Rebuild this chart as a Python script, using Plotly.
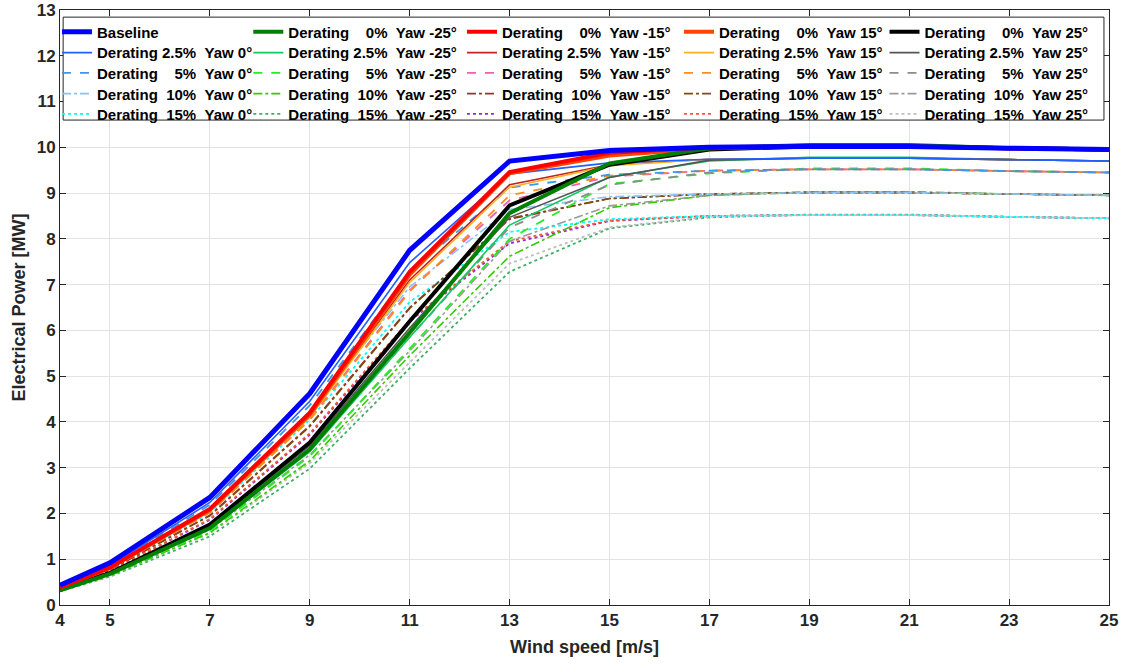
import plotly.graph_objects as go

# Wind speeds at which the power was evaluated [m/s]
wind_speed = [4, 5, 7, 9, 11, 13, 15, 17, 19, 21, 23, 25]

x_ticks = [4, 5, 7, 9, 11, 13, 15, 17, 19, 21, 23, 25]
y_ticks = list(range(0, 14))

derating_levels = ["0%", "2.5%", "5%", "10%", "15%"]
yaw_angles = ["0°", "-25°", "-15°", "15°", "25°"]

# Electrical power [MW] for each yaw angle, one list per derating level
p_baseline = [0.43, 0.92, 2.35, 4.62, 7.75, 9.70, 9.93, 10.00, 10.02, 10.02, 9.98, 9.95]

p_yaw0_d2_5 = [0.40, 0.86, 2.24, 4.45, 7.48, 9.42, 9.66, 9.74, 9.76, 9.76, 9.73, 9.70]
p_yaw0_d5 = [0.39, 0.84, 2.19, 4.36, 7.28, 9.12, 9.40, 9.49, 9.52, 9.52, 9.48, 9.45]
p_yaw0_d10 = [0.38, 0.81, 2.10, 4.20, 6.95, 8.64, 8.92, 8.98, 9.01, 9.01, 8.98, 8.95]
p_yaw0_d15 = [0.37, 0.78, 2.02, 4.05, 6.62, 8.15, 8.43, 8.50, 8.52, 8.52, 8.48, 8.45]

p_yawm25_d0 = [0.32, 0.68, 1.68, 3.40, 5.95, 8.56, 9.65, 9.98, 10.05, 10.05, 9.98, 9.95]
p_yawm25_d2_5 = [0.32, 0.67, 1.66, 3.35, 5.85, 8.30, 9.35, 9.70, 9.78, 9.78, 9.73, 9.70]
p_yawm25_d5 = [0.31, 0.66, 1.62, 3.25, 5.60, 8.00, 9.20, 9.43, 9.54, 9.54, 9.48, 9.45]
p_yawm25_d10 = [0.31, 0.64, 1.58, 3.15, 5.45, 7.62, 8.68, 8.95, 9.03, 9.03, 8.98, 8.95]
p_yawm25_d15 = [0.30, 0.62, 1.50, 2.98, 5.17, 7.28, 8.23, 8.47, 8.53, 8.53, 8.48, 8.45]

p_yawm15_d0 = [0.38, 0.82, 2.10, 4.20, 7.28, 9.46, 9.88, 10.00, 10.02, 10.02, 9.98, 9.95]
p_yawm15_d2_5 = [0.37, 0.80, 2.06, 4.12, 7.10, 9.18, 9.62, 9.74, 9.76, 9.76, 9.73, 9.70]
p_yawm15_d5 = [0.37, 0.79, 2.03, 4.06, 6.88, 8.84, 9.36, 9.49, 9.52, 9.52, 9.48, 9.45]
p_yawm15_d10 = [0.36, 0.77, 1.96, 3.92, 6.50, 8.43, 8.88, 8.98, 9.01, 9.01, 8.98, 8.95]
p_yawm15_d15 = [0.35, 0.74, 1.86, 3.72, 6.20, 7.90, 8.39, 8.50, 8.52, 8.52, 8.48, 8.45]

p_yaw15_d0 = [0.38, 0.81, 2.08, 4.16, 7.22, 9.43, 9.82, 9.98, 10.02, 10.02, 9.98, 9.95]
p_yaw15_d2_5 = [0.37, 0.80, 2.05, 4.10, 7.05, 9.13, 9.60, 9.74, 9.76, 9.76, 9.73, 9.70]
p_yaw15_d5 = [0.37, 0.79, 2.02, 4.04, 6.85, 8.95, 9.38, 9.49, 9.52, 9.52, 9.48, 9.45]
p_yaw15_d10 = [0.36, 0.77, 1.95, 3.90, 6.48, 8.45, 8.88, 8.98, 9.01, 9.01, 8.98, 8.95]
p_yaw15_d15 = [0.35, 0.74, 1.88, 3.75, 6.22, 7.95, 8.40, 8.50, 8.52, 8.52, 8.48, 8.45]

p_yaw25_d0 = [0.33, 0.70, 1.76, 3.55, 6.20, 8.73, 9.62, 9.95, 10.02, 10.02, 9.98, 9.95]
p_yaw25_d2_5 = [0.33, 0.69, 1.73, 3.48, 6.05, 8.47, 9.34, 9.72, 9.76, 9.76, 9.73, 9.70]
p_yaw25_d5 = [0.32, 0.68, 1.70, 3.40, 5.85, 8.25, 9.18, 9.45, 9.52, 9.52, 9.48, 9.45]
p_yaw25_d10 = [0.32, 0.66, 1.64, 3.28, 5.55, 7.95, 8.72, 8.95, 9.01, 9.01, 8.98, 8.95]
p_yaw25_d15 = [0.31, 0.64, 1.56, 3.10, 5.30, 7.46, 8.25, 8.48, 8.52, 8.52, 8.48, 8.45]

power = {
    "0°": [p_baseline, p_yaw0_d2_5, p_yaw0_d5, p_yaw0_d10, p_yaw0_d15],
    "-25°": [p_yawm25_d0, p_yawm25_d2_5, p_yawm25_d5, p_yawm25_d10, p_yawm25_d15],
    "-15°": [p_yawm15_d0, p_yawm15_d2_5, p_yawm15_d5, p_yawm15_d10, p_yawm15_d15],
    "15°": [p_yaw15_d0, p_yaw15_d2_5, p_yaw15_d5, p_yaw15_d10, p_yaw15_d15],
    "25°": [p_yaw25_d0, p_yaw25_d2_5, p_yaw25_d5, p_yaw25_d10, p_yaw25_d15],
}

# Line styles: one colour per (yaw, derating); dash pattern per derating level
colors = {
    "0°": ["#0000FF", "#2060FF", "#3C96F0", "#87C4F5", "#00FFFF"],
    "-25°": ["#008000", "#10C860", "#22EE22", "#33CC00", "#3CB060"],
    "-15°": ["#FF0000", "#C82020", "#F060B0", "#A03030", "#8A2BE2"],
    "15°": ["#FF4500", "#FFB020", "#FF8C1A", "#7A4E10", "#F05A32"],
    "25°": ["#000000", "#555555", "#8C8C8C", "#9A9A9A", "#BEBEBE"],
}
dashes = ["solid", "solid", "dash", "dashdot", "dot"]
widths = [4, 1.6, 1.8, 1.6, 1.8]

NB = "\u00a0"
pct_pad = {"0%": NB * 3, "2.5%": "", "5%": NB * 3, "10%": NB, "15%": NB}

FONT = "Arial, Liberation Sans, sans-serif"
LEGEND_FONT = dict(family=FONT, size=15, color="black")

# legend grid: one single-entry legend per (column, row)
legend_col_x = [-0.0029, 0.1795, 0.3832, 0.5901, 0.7860]
legend_row_y = [0.963, 0.928, 0.894, 0.859, 0.825]


def legend_key(col, row):
    n = row * 5 + col + 1
    return "legend" if n == 1 else f"legend{n}"


fig = go.Figure()

# derated curves first, full-power curves on top, baseline last
draw_order = [(c, r) for r in (4, 3, 2, 1) for c in (1, 2, 3, 4, 0)]
draw_order += [(4, 0), (3, 0), (1, 0), (2, 0), (0, 0)]
for col, row in draw_order:
    yaw = yaw_angles[col]
    der = derating_levels[row]
    if col == 0 and row == 0:
        name = "Baseline"
        width = 5
    else:
        name = f"Derating{NB}{pct_pad[der]}{der}{NB}{NB}Yaw{NB}{yaw}"
        width = widths[row]
    fig.add_trace(go.Scatter(
        x=wind_speed,
        y=power[yaw][row],
        mode="lines",
        name=f"<b>{name}</b>",
        line=dict(color=colors[yaw][row], width=width, dash=dashes[row]),
        legend=legend_key(col, row),
    ))

axis_common = dict(
    showline=True,
    linecolor="#262626",
    linewidth=1,
    mirror="ticks",
    ticks="inside",
    ticklen=6,
    tickcolor="#262626",
    showgrid=True,
    gridcolor="#E3E3E3",
    gridwidth=1,
    zeroline=False,
    tickfont=dict(family=FONT, size=17, color="#262626"),
)

fig.update_xaxes(
    range=[4, 25],
    tickvals=x_ticks,
    ticktext=[f"<b>{v}</b>" for v in x_ticks],
    title=dict(text="<b>Wind speed [m/s]</b>",
               font=dict(family=FONT, size=18, color="#262626"),
               standoff=10),
    **axis_common,
)
fig.update_yaxes(
    range=[0, 13],
    tickvals=y_ticks,
    ticktext=[f"<b>{v}</b>" for v in y_ticks],
    title=dict(text="<b>Electrical Power [MW]</b>",
               font=dict(family=FONT, size=18, color="#262626"),
               standoff=6),
    **axis_common,
)

layout_legends = {}
for row in range(5):
    for col in range(5):
        layout_legends[legend_key(col, row)] = dict(
            x=legend_col_x[col],
            y=legend_row_y[row],
            xanchor="left",
            yanchor="middle",
            orientation="v",
            bgcolor="rgba(0,0,0,0)",
            borderwidth=0,
            font=LEGEND_FONT,
            itemwidth=30,
        )

fig.update_layout(
    width=1121,
    height=664,
    margin=dict(l=60, r=12, t=10, b=59, autoexpand=False),
    paper_bgcolor="white",
    plot_bgcolor="white",
    showlegend=True,
    font=dict(family=FONT, color="#262626"),
    shapes=[dict(
        type="rect", xref="paper", yref="paper",
        x0=0.003, x1=0.9952, y0=0.815, y1=0.988,
        line=dict(color="#262626", width=1),
        fillcolor="white",
        layer="above",
    )],
    **layout_legends,
)

fig.write_html("out.html")
